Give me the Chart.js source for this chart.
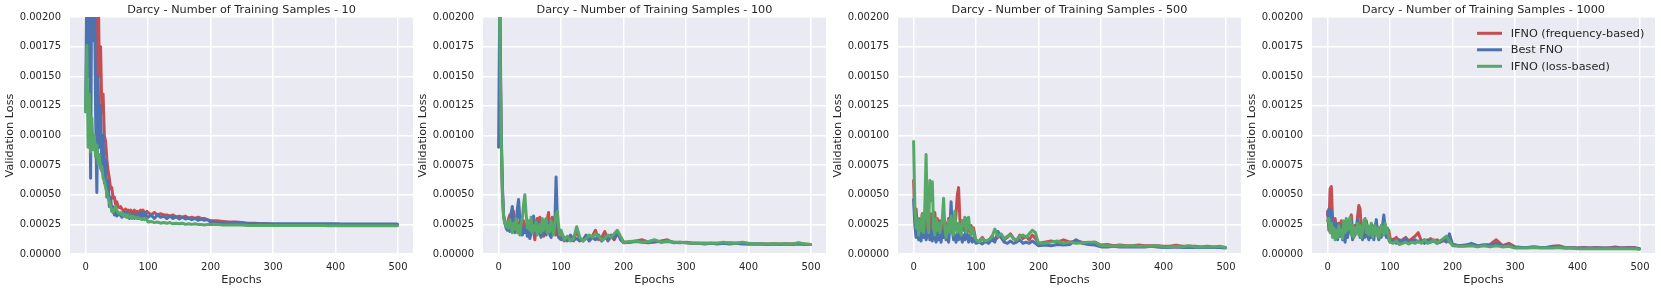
<!DOCTYPE html>
<html><head><meta charset="utf-8">
<script src="https://cdn.jsdelivr.net/npm/chart.js@4.4.1/dist/chart.umd.min.js"></script>
<style>
html,body{margin:0;padding:0;background:#ffffff;}
#wrap{position:relative;width:1661px;height:292px;overflow:hidden;background:#ffffff;}
.pan{position:absolute;top:0;width:415px;height:292px;}
canvas{display:block;}
</style></head><body>
<div id="wrap">
<div class="pan" style="left:0px"><canvas id="c0" width="415" height="292"></canvas></div>
<div class="pan" style="left:413px"><canvas id="c1" width="415" height="292"></canvas></div>
<div class="pan" style="left:828px"><canvas id="c2" width="415" height="292"></canvas></div>
<div class="pan" style="left:1242px"><canvas id="c3" width="415" height="292"></canvas></div>
</div>
<script>
// ---- data (values in units of 1e-5) ----
const epochs = [0,2,4,6,8,10,12,14,16,18,20,22,24,26,28,30,32,34,36,38,40,42,44,46,48,50,52,54,56,58,60,62,64,66,68,70,72,74,76,78,80,82,84,86,88,90,92,94,96,98,
  100,105,110,115,120,125,130,135,140,145,150,155,160,165,170,175,180,185,190,195,
  200,210,220,230,240,250,260,270,280,290,300,310,320,330,340,350,360,370,380,390,400,410,420,430,440,450,460,470,480,490,499];
const VALUE_UNIT = 1e-5;
const seriesLabels = ['IFNO (frequency-based)', 'Best FNO', 'IFNO (loss-based)'];
const panelTitles = ['Darcy - Number of Training Samples - 10', 'Darcy - Number of Training Samples - 100',
  'Darcy - Number of Training Samples - 500', 'Darcy - Number of Training Samples - 1000'];
const xTickValues = [0, 100, 200, 300, 400, 500];
const yTickValues = [0, 0.00025, 0.0005, 0.00075, 0.001, 0.00125, 0.0015, 0.00175, 0.002];

const n10_freq = [230,210,260,280,250,270,240,280,230,150, 240,150,175,120,135,100,95,80,70,64, 55,56,47,48,42,44,40,39,40,38, 37,36,38,35,37,35,37,35,36,37, 34,36,34,36,37,34,37,35,34,36,
  35,33,35,33,34,33,33,32,33,31, 32,31,32,30,31,30,31,30,30,29,
  28,28,27.5,27,27,26.5,26,26,25.5,25.5, 25,25,25,25,25,25,25,25,24.5,24.5, 24.5,24.5,24.5,24.5,24.5,24.5,24.5,24.5,24.5,24.5, 24.5];
const n10_best = [120,230,150,240,64,250,180,240,120,52, 150,90,125,70,100,60,80,48,62,40, 48,36,40,33,36,32,35,33,34,31, 35,32,35,31,34,30,33,31,34,30, 33,32,30,33,35,31,35,32,35,31,
  31,33,30,33,31,32,30,32,30,31.5, 29.5,31,29.5,30.5,29,30,28.5,29.5,28.5,29,
  27,26.5,26.5,26,26,26,25.5,25.5,25.5,25.5, 25.5,25.5,25.5,25.5,25.5,25.5,25.5,25.5,25.5,25.5, 25.5,25.3,25.3,25.3,25.3,25.3,25.3,25.3,25.3,25.3, 25.3];
const n10_loss = [120,176,90,135,86,115,88,100,82,92, 76,84,72,74,64,62,56,52,48,44, 40,37,35,38,40,37,35,34,35,33, 34,32,33,31,33,31,32,30,32,31, 31,30,31,30,30,29,30,29,30,29,
  27,27.5,26.5,27,26,26.5,26,26.5,25.5,26, 25.5,26,25,25.5,25,25.5,25,25,24.5,25,
  25,25,24.5,24.5,24.5,24.5,24,24,24,24, 24,24,24,24,24,24,24,24,24,23.8, 23.8,23.8,23.8,23.8,23.8,23.8,23.8,23.8,23.8,23.8, 23.8];

const n100_freq = [240,200,105,55,32,27,24,25,30,33, 22,28,36,25,20,27,22,18,24,20, 28,24,18,26,22,18,27,24,20,12, 26,30,22,31,20,28,15,24,20,30, 35,18,26,31,20,27,16,22,14,18,
  15,11,14,12,11,20,12,11,14,12, 15,20,12,14,19,11,15,12,17,14,
  10,10,11,12,10,10,11,12,9.5,10, 9.5,9,9,9,9,9,9,9.5,9,9.5, 8.5,8.5,8.5,8.5,8.5,8.5,8.5,8.5,9,8.5, 8];
const n100_best = [90,220,110,58,33,26,22,20,26,19, 34,40,28,18,22,38,46,30,20,16, 22,18,24,15,20,13,18,25,32,22, 16,20,26,18,14,22,18,24,16,20, 26,16,14,20,17,24,65,30,15,13,
  12,14,11,16,12,13,11,12,16,11, 14,12,16,11,14,12,16,13,19,12,
  9.5,10,10.5,10,9.5,11,10,10.5,10,9.5, 10,9,9,8.5,9,8.5,9,8.5,9,8.5, 8.5,8.5,8.5,8,8.5,8,8.5,8,8.5,8, 8];
const n100_loss = [250,190,100,52,31,26,23,27,22,29, 24,18,26,21,30,18,24,16,26,30, 42,50,34,22,28,20,31,18,24,20, 27,16,22,25,18,30,20,28,30,18, 24,19,28,22,16,26,34,36,24,16,
  20,12,15,11,13,23,14,11,13,16, 14,17,15,12,13,16,14,17,20,15,
  10,10.5,11,10,10.5,12,10,11,10,10, 9.5,9,9,9,9,9,10,9,9,10, 9,8.5,8.5,8.5,8.5,8.5,8.5,8.5,9.5,8.5, 8];

const n500_freq = [62,28,38,22,30,18,26,34,20,24, 30,18,26,20,34,16,26,35,22,30, 18,28,20,24,30,18,26,22,30,18, 24,20,28,22,34,50,56,30,22,28, 20,26,18,24,22,18,24,20,22,16,
  10,11,14,10,11,15,12,14,16,12, 14,17,13,11,16,13,15,12,16,13,
  9,10,11,10,12,10,11,10,9.5,10, 7.5,8,7,7.5,7,7,7.5,7,7,7, 6.5,6.5,7.5,6.5,6.5,6.5,6,6.5,6,6, 5.5];
const n500_best = [46,24,14,30,12,18,11,24,14,20, 12,16,26,12,18,11,22,14,10,18, 12,16,10,20,14,26,12,18,10,22, 44,20,12,16,10,18,12,20,14,10, 16,12,22,14,10,16,12,10,14,11,
  9,10,8.5,11,9,12,10,19,14,10, 9,11,9,10,12,9,10,9,11,9,
  7,7.5,7,8,7.5,8,12,9,8,7.5, 6,6,6.5,6,6,6,6,6,6.5,6, 5.5,5.5,6,5.5,5.5,5.5,5.5,5.5,5.5,5.5, 5];
const n500_loss = [95,40,22,30,16,28,20,34,18,40, 84,30,18,62,45,61,22,16,30,20, 26,18,24,30,47,22,14,20,28,18, 32,24,16,36,22,18,26,20,16,28, 24,31,18,30,31,20,16,22,18,14,
  12,10,13,11,12,14,21,15,17,13, 15,16,13,12,15,16,14,17,20,18,
  9,9,10,11,9,10,9,9.5,10,10, 7,7,6.5,7,6.5,7,6.5,6.5,6.5,7, 6,6,6.5,6,7,6,6,6,6,6.5, 5.5];

const n1000_freq = [36,20,55,57,28,18,30,22,14,26, 18,28,16,24,20,14,26,22,30,33, 18,14,24,18,32,41,38,20,16,24, 18,28,20,14,22,18,24,16,20,26, 18,22,16,24,20,26,18,22,16,20,
  13,12,14,10,12,14,11,13,15,18, 11,12,10,13,11,12,10,11,13,10,
  8,7,7.5,8,7,7.5,8,12,7,9, 6,5.5,5.5,6,5.5,5.5,6.5,7,5.5,5.5, 5,5.5,5,5.5,5,5,6,5,5.5,5.5, 4.5];
const n1000_best = [33,38,22,37,30,20,16,26,12,22, 15,24,12,18,10,20,14,24,18,28, 12,20,16,22,29,24,14,20,12,18, 14,22,16,12,20,14,18,12,22,29, 16,12,18,14,24,33,22,14,18,12,
  10,11,9,12,10,13,9,11,12,10, 11,9,12,10,11,9,10,12,10,17,
  8,7,7,9,7,7.5,7,9,6.5,7, 6,5.5,5.5,6,5.5,5.5,6,5.5,5,5, 5,5,5,5,5,5,5,5,5,5, 4.5];
const n1000_loss = [28,30,18,26,14,22,12,20,14,24, 16,20,13,28,18,30,20,26,31,16, 24,14,22,18,26,16,24,14,20,28, 30,18,24,16,22,26,14,20,24,16, 22,14,18,24,20,16,26,18,22,14,
  10,9,11,8,9,10,8.5,10,9,11, 9,12,9,10,12,9,11,13,15,11,
  7,6.5,6.5,7,6,7,6,7,6,6.5, 5,5,5,5.5,5,5,5,5.5,5,5, 4.5,4.5,4.5,4.5,4.5,4.5,4.5,4.5,4.5,4.5, 4];

const panels = [
  [n10_freq, n10_best, n10_loss],
  [n100_freq, n100_best, n100_loss],
  [n500_freq, n500_best, n500_loss],
  [n1000_freq, n1000_best, n1000_loss]
];

// ---- styling ----
const COLORS = ['#C44E52', '#4C72B0', '#55A868'];
const DRAW_ORDER = [3, 2, 1];
const TEXT = '#262626';
const FONT = "'DejaVu Sans', sans-serif";
Chart.defaults.font.family = FONT;
Chart.defaults.color = TEXT;

const bgPlugin = {
  id: 'bg',
  beforeDraw(chart) {
    const a = chart.chartArea, ctx = chart.ctx;
    ctx.save();
    ctx.fillStyle = '#EAEAF2';
    ctx.fillRect(a.left, a.top, a.right - a.left, a.bottom - a.top);
    ctx.restore();
  }
};
const titlePlugin = {
  id: 'ptitle',
  afterDraw(chart, args, opts) {
    const a = chart.chartArea, ctx = chart.ctx;
    ctx.save();
    ctx.font = "11.25px " + FONT;
    ctx.fillStyle = TEXT;
    ctx.textAlign = 'center';
    ctx.textBaseline = 'alphabetic';
    ctx.fillText(opts.text, (a.left + a.right) / 2, a.top - 3.8);
    ctx.restore();
  }
};
const legendPlugin = {
  id: 'plegend',
  afterDraw(chart, args, opts) {
    if (!opts.show) return;
    const a = chart.chartArea, ctx = chart.ctx;
    ctx.save();
    ctx.font = "11.25px " + FONT;
    ctx.textBaseline = 'middle';
    ctx.textAlign = 'left';
    chart.data.datasets.forEach((ds, i) => {
      const y = a.top + 16.3 + i * 16.5;
      ctx.strokeStyle = ds.borderColor;
      ctx.lineWidth = 3;
      ctx.lineCap = 'butt';
      ctx.beginPath();
      ctx.moveTo(a.right - 178, y);
      ctx.lineTo(a.right - 153, y);
      ctx.stroke();
      ctx.fillStyle = TEXT;
      ctx.fillText(ds.label, a.right - 144.3, y + 0.5);
    });
    ctx.restore();
  }
};

panels.forEach((series, p) => {
  const datasets = series.map((vals, s) => ({
    label: seriesLabels[s],
    data: epochs.map((e, i) => ({ x: e, y: vals[i] * VALUE_UNIT })),
    borderColor: COLORS[s],
    backgroundColor: COLORS[s],
    borderWidth: 3,
    pointRadius: 0,
    tension: 0,
    fill: false,
    borderJoinStyle: 'round',
    borderCapStyle: 'round',
    order: DRAW_ORDER[s],
    clip: 0
  }));
  new Chart(document.getElementById('c' + p), {
    type: 'line',
    data: { datasets },
    options: {
      responsive: false,
      animation: false,
      devicePixelRatio: 1,
      events: [],
      layout: { padding: { top: 17, right: 2, left: 0, bottom: 0 } },
      plugins: {
        legend: { display: false },
        title: { display: false },
        tooltip: { enabled: false },
        ptitle: { text: panelTitles[p] },
        plegend: { show: p === 3 }
      },
      scales: {
        x: {
          type: 'linear',
          min: -24.95,
          max: 523.95,
          afterBuildTicks(scale) { scale.ticks = xTickValues.map(v => ({ value: v })); },
          afterFit(scale) { scale.height = 38; },
          grid: { color: '#ffffff', lineWidth: 1.5, drawTicks: false },
          border: { display: false },
          ticks: { padding: 7, font: { size: 10 }, color: TEXT, maxRotation: 0, autoSkip: false,
                   callback: v => String(v) },
          title: { display: true, text: 'Epochs', font: { size: 11.25 }, color: TEXT,
                   padding: { top: 0, bottom: 5 } }
        },
        y: {
          type: 'linear',
          min: 0,
          max: 0.002,
          afterBuildTicks(scale) { scale.ticks = yTickValues.map(v => ({ value: v })); },
          afterFit(scale) { scale.width = 70; },
          grid: { color: '#ffffff', lineWidth: 1.5, drawTicks: false },
          border: { display: false },
          ticks: { padding: 9, font: { size: 10 }, color: TEXT, autoSkip: false,
                   callback: v => Number(v).toFixed(5) },
          title: { display: true, text: 'Validation Loss', font: { size: 11.25 }, color: TEXT,
                   padding: { top: 3, bottom: 0 } }
        }
      }
    },
    plugins: [bgPlugin, titlePlugin, legendPlugin]
  });
});
</script>
</body></html>
